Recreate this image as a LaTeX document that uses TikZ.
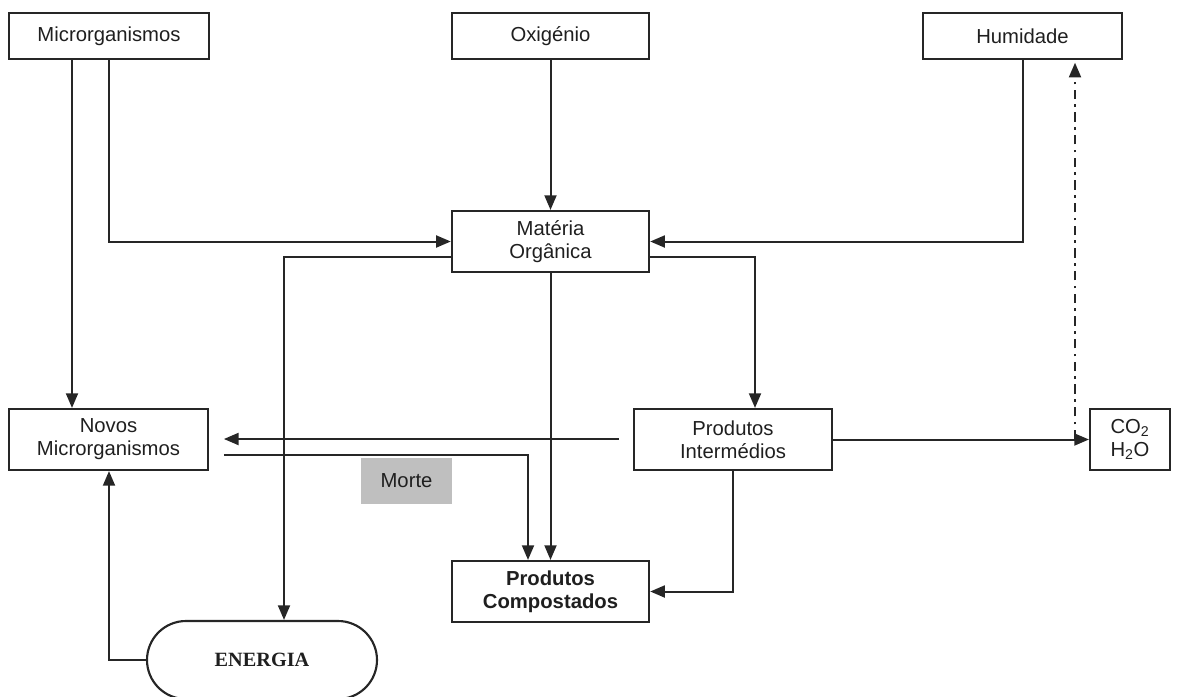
\documentclass[tikz,border=0pt]{standalone}
\usepackage{fontspec}
\setmainfont{Liberation Sans}
\newfontfamily\serifbf{Liberation Serif}
\usetikzlibrary{arrows.meta}
\begin{document}
\begin{tikzpicture}[x=0.75pt,y=-0.75pt,
  box/.style={draw=black!85, line width=1.6pt, inner sep=0pt, align=center,
    font=\fontsize{15.2}{17.3}\selectfont, text=black!88},
  arr/.style={draw=black!85, line width=1.5pt, -{Triangle[length=11pt,width=9pt]}},
  dd/.style={arr, dash pattern=on 7pt off 4pt on 2pt off 4pt},
]
\useasboundingbox (0,0) rectangle (1181,696);
% nodes
\node[box, minimum width=150pt, minimum height=34.5pt] (micro) at (109,36) {Microrganismos};
\node[box, minimum width=148pt, minimum height=34.5pt] (oxi) at (550.5,36) {Oxigénio};
\node[box, minimum width=149pt, minimum height=34.5pt] (humid) at (1022.5,36) {Humidade};
\node[box, minimum width=148pt, minimum height=45.75pt] (materia) at (550.5,241.5) {Matéria\\Orgânica};
\node[box, minimum width=149pt, minimum height=45.75pt] (novos) at (108.5,439.5) {Novos\\Microrganismos};
\node[box, minimum width=148.5pt, minimum height=45.75pt] (prodint) at (733,439.5) {Produtos\\Intermédios};
\node[box, minimum width=60pt, minimum height=45.75pt] (co2) at (1130,439.5) {CO\textsubscript{2}\\H\textsubscript{2}O};
\node[box, draw=none, fill=black!25, minimum width=68.25pt, minimum height=34.5pt] (morte) at (406.5,481) {Morte};
\node[box, minimum width=148pt, minimum height=45.75pt, font=\fontsize{15.2}{17.3}\selectfont\bfseries] (prodcomp) at (550.5,591.5) {Produtos\\Compostados};
\node[box, minimum width=172.5pt, minimum height=58.5pt, rounded corners=29.25pt, font=\fontsize{15.2}{17.3}\serifbf\bfseries] (energia) at (262,660) {ENERGIA};
% connectors
\draw[arr] (72,0 |- micro.south) -- (72,0 |- novos.north);
\draw[arr] (109,0 |- micro.south) |- (materia.west);
\draw[arr] (oxi.south) -- (materia.north);
\draw[arr] (humid.south) |- (materia.east);
\draw[arr] (materia.west |- 0,257) -| (284,0 |- energia.north);
\draw[arr] (materia.east |- 0,257) -| (755,0 |- prodint.north);
\draw[arr] (materia.south) -- (prodcomp.north);
\coordinate (pin) at ([xshift=-10.5pt]prodint.west);
\coordinate (nout) at ([xshift=11.25pt]novos.east);
\draw[arr] (pin |- 0,439) -- (nout |- 0,439);
\draw[arr] (nout |- 0,455) -| (528,0 |- prodcomp.north);
\draw[arr] (prodint.south) |- (prodcomp.east);
\draw[arr] (prodint.east) -- (co2.west);
\draw[dd, shorten >=2pt] (1075,439) -- (1075,0 |- humid.south);
\draw[arr] (energia.west) -| (109,0 |- novos.south);
\end{tikzpicture}
\end{document}
